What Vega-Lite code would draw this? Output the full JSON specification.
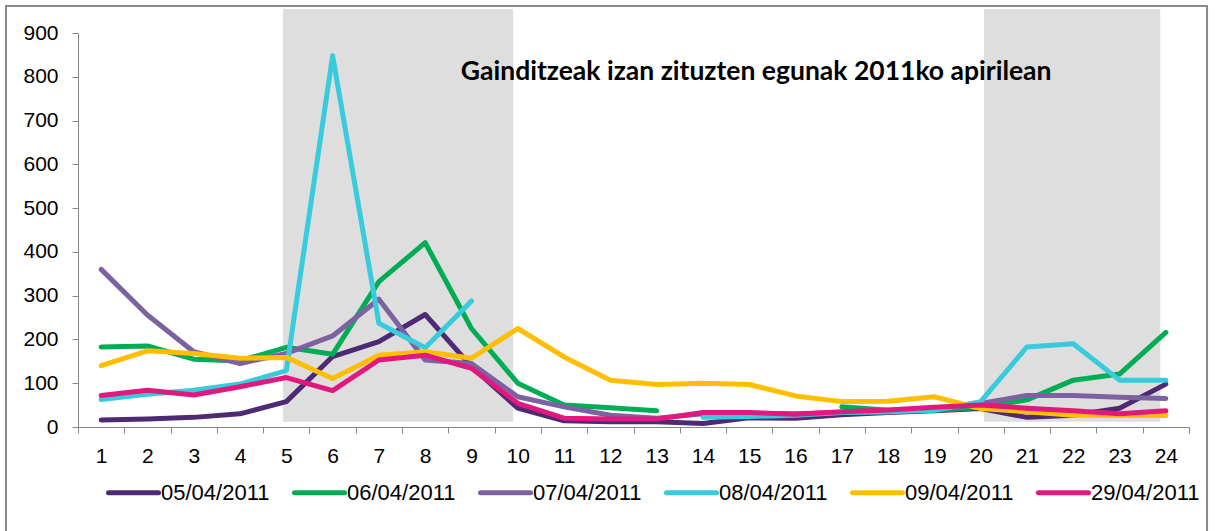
{
  "$schema": "https://vega.github.io/schema/vega-lite/v6.json",
  "autosize": "none",
  "width": 1111,
  "height": 394,
  "padding": {"left": 78, "top": 33, "right": 27, "bottom": 104},
  "background": "white",
  "config": {"view": {"stroke": null}, "font": "Liberation Sans"},
  "data": {"values": [
    {"hour":1,"date":"05/04/2011","value":16},{"hour":2,"date":"05/04/2011","value":18},{"hour":3,"date":"05/04/2011","value":22},{"hour":4,"date":"05/04/2011","value":30},{"hour":5,"date":"05/04/2011","value":58},{"hour":6,"date":"05/04/2011","value":161},{"hour":7,"date":"05/04/2011","value":195},{"hour":8,"date":"05/04/2011","value":257},{"hour":9,"date":"05/04/2011","value":138},{"hour":10,"date":"05/04/2011","value":43},{"hour":11,"date":"05/04/2011","value":14},{"hour":12,"date":"05/04/2011","value":12},{"hour":13,"date":"05/04/2011","value":12},{"hour":14,"date":"05/04/2011","value":8},{"hour":15,"date":"05/04/2011","value":21},{"hour":16,"date":"05/04/2011","value":20},{"hour":17,"date":"05/04/2011","value":28},{"hour":18,"date":"05/04/2011","value":33},{"hour":19,"date":"05/04/2011","value":37},{"hour":20,"date":"05/04/2011","value":42},{"hour":21,"date":"05/04/2011","value":22},{"hour":22,"date":"05/04/2011","value":27},{"hour":23,"date":"05/04/2011","value":43},{"hour":24,"date":"05/04/2011","value":98},
    {"hour":1,"date":"06/04/2011","value":183},{"hour":2,"date":"06/04/2011","value":185},{"hour":3,"date":"06/04/2011","value":155},{"hour":4,"date":"06/04/2011","value":151},{"hour":5,"date":"06/04/2011","value":182},{"hour":6,"date":"06/04/2011","value":166},{"hour":7,"date":"06/04/2011","value":332},{"hour":8,"date":"06/04/2011","value":421},{"hour":9,"date":"06/04/2011","value":225},{"hour":10,"date":"06/04/2011","value":100},{"hour":11,"date":"06/04/2011","value":50},{"hour":12,"date":"06/04/2011","value":44},{"hour":13,"date":"06/04/2011","value":37},{"hour":14,"date":"06/04/2011","value":null},{"hour":15,"date":"06/04/2011","value":null},{"hour":16,"date":"06/04/2011","value":null},{"hour":17,"date":"06/04/2011","value":46},{"hour":18,"date":"06/04/2011","value":38},{"hour":19,"date":"06/04/2011","value":38},{"hour":20,"date":"06/04/2011","value":45},{"hour":21,"date":"06/04/2011","value":62},{"hour":22,"date":"06/04/2011","value":107},{"hour":23,"date":"06/04/2011","value":121},{"hour":24,"date":"06/04/2011","value":216},
    {"hour":1,"date":"07/04/2011","value":360},{"hour":2,"date":"07/04/2011","value":256},{"hour":3,"date":"07/04/2011","value":172},{"hour":4,"date":"07/04/2011","value":145},{"hour":5,"date":"07/04/2011","value":168},{"hour":6,"date":"07/04/2011","value":208},{"hour":7,"date":"07/04/2011","value":292},{"hour":8,"date":"07/04/2011","value":153},{"hour":9,"date":"07/04/2011","value":145},{"hour":10,"date":"07/04/2011","value":69},{"hour":11,"date":"07/04/2011","value":46},{"hour":12,"date":"07/04/2011","value":27},{"hour":13,"date":"07/04/2011","value":20},{"hour":14,"date":"07/04/2011","value":30},{"hour":15,"date":"07/04/2011","value":31},{"hour":16,"date":"07/04/2011","value":30},{"hour":17,"date":"07/04/2011","value":33},{"hour":18,"date":"07/04/2011","value":35},{"hour":19,"date":"07/04/2011","value":40},{"hour":20,"date":"07/04/2011","value":54},{"hour":21,"date":"07/04/2011","value":72},{"hour":22,"date":"07/04/2011","value":72},{"hour":23,"date":"07/04/2011","value":68},{"hour":24,"date":"07/04/2011","value":65},
    {"hour":1,"date":"08/04/2011","value":63},{"hour":2,"date":"08/04/2011","value":75},{"hour":3,"date":"08/04/2011","value":84},{"hour":4,"date":"08/04/2011","value":98},{"hour":5,"date":"08/04/2011","value":129},{"hour":6,"date":"08/04/2011","value":848},{"hour":7,"date":"08/04/2011","value":237},{"hour":8,"date":"08/04/2011","value":181},{"hour":9,"date":"08/04/2011","value":288},{"hour":10,"date":"08/04/2011","value":null},{"hour":11,"date":"08/04/2011","value":null},{"hour":12,"date":"08/04/2011","value":null},{"hour":13,"date":"08/04/2011","value":null},{"hour":14,"date":"08/04/2011","value":22},{"hour":15,"date":"08/04/2011","value":24},{"hour":16,"date":"08/04/2011","value":27},{"hour":17,"date":"08/04/2011","value":33},{"hour":18,"date":"08/04/2011","value":35},{"hour":19,"date":"08/04/2011","value":38},{"hour":20,"date":"08/04/2011","value":58},{"hour":21,"date":"08/04/2011","value":183},{"hour":22,"date":"08/04/2011","value":190},{"hour":23,"date":"08/04/2011","value":107},{"hour":24,"date":"08/04/2011","value":107},
    {"hour":1,"date":"09/04/2011","value":140},{"hour":2,"date":"09/04/2011","value":174},{"hour":3,"date":"09/04/2011","value":168},{"hour":4,"date":"09/04/2011","value":157},{"hour":5,"date":"09/04/2011","value":159},{"hour":6,"date":"09/04/2011","value":111},{"hour":7,"date":"09/04/2011","value":164},{"hour":8,"date":"09/04/2011","value":172},{"hour":9,"date":"09/04/2011","value":157},{"hour":10,"date":"09/04/2011","value":225},{"hour":11,"date":"09/04/2011","value":160},{"hour":12,"date":"09/04/2011","value":107},{"hour":13,"date":"09/04/2011","value":97},{"hour":14,"date":"09/04/2011","value":100},{"hour":15,"date":"09/04/2011","value":97},{"hour":16,"date":"09/04/2011","value":71},{"hour":17,"date":"09/04/2011","value":58},{"hour":18,"date":"09/04/2011","value":59},{"hour":19,"date":"09/04/2011","value":69},{"hour":20,"date":"09/04/2011","value":42},{"hour":21,"date":"09/04/2011","value":35},{"hour":22,"date":"09/04/2011","value":27},{"hour":23,"date":"09/04/2011","value":26},{"hour":24,"date":"09/04/2011","value":26},
    {"hour":1,"date":"29/04/2011","value":72},{"hour":2,"date":"29/04/2011","value":84},{"hour":3,"date":"29/04/2011","value":73},{"hour":4,"date":"29/04/2011","value":92},{"hour":5,"date":"29/04/2011","value":113},{"hour":6,"date":"29/04/2011","value":83},{"hour":7,"date":"29/04/2011","value":153},{"hour":8,"date":"29/04/2011","value":164},{"hour":9,"date":"29/04/2011","value":134},{"hour":10,"date":"29/04/2011","value":54},{"hour":11,"date":"29/04/2011","value":20},{"hour":12,"date":"29/04/2011","value":18},{"hour":13,"date":"29/04/2011","value":18},{"hour":14,"date":"29/04/2011","value":33},{"hour":15,"date":"29/04/2011","value":33},{"hour":16,"date":"29/04/2011","value":29},{"hour":17,"date":"29/04/2011","value":35},{"hour":18,"date":"29/04/2011","value":39},{"hour":19,"date":"29/04/2011","value":45},{"hour":20,"date":"29/04/2011","value":50},{"hour":21,"date":"29/04/2011","value":43},{"hour":22,"date":"29/04/2011","value":37},{"hour":23,"date":"29/04/2011","value":30},{"hour":24,"date":"29/04/2011","value":37}
  ]},
  "layer": [
    {
      "data": {"values": [{}]},
      "mark": {"type": "rect", "fill": "white", "fillOpacity": 0, "stroke": "#8a8a8a", "strokeWidth": 2, "clip": false},
      "encoding": {
        "x": {"datum": -1.055, "type": "quantitative", "scale": {"domain": [0.5, 24.5], "nice": false, "zero": false},
          "axis": {"title": null, "grid": false, "values": [0.5,1.5,2.5,3.5,4.5,5.5,6.5,7.5,8.5,9.5,10.5,11.5,12.5,13.5,14.5,15.5,16.5,17.5,18.5,19.5,20.5,21.5,22.5,23.5,24.5], "labelExpr": "datum.value < 24 ? format(datum.value + 0.5, 'd') : ''", "labelOffset": 23.15, "labelOverlap": false, "labelBound": false, "labelFlush": false, "tickSize": 6, "labelPadding": 12, "labelFontSize": 21, "labelColor": "#000000", "domainColor": "#868686", "tickColor": "#868686", "domainWidth": 1, "tickWidth": 1}},
        "x2": {"datum": 24.89},
        "y": {"datum": 961.7, "type": "quantitative", "scale": {"domain": [0, 900], "nice": false},
          "axis": {"title": null, "grid": false, "values": [0,100,200,300,400,500,600,700,800,900], "tickSize": 6, "labelPadding": 14, "labelFontSize": 21, "labelColor": "#000000", "domainColor": "#868686", "tickColor": "#868686", "domainWidth": 1, "tickWidth": 1}},
        "y2": {"datum": -260}
      }
    },
    {
      "data": {"values": [{"start": 4.93, "end": 9.9}, {"start": 20.07, "end": 23.88}]},
      "mark": {"type": "rect", "color": "#dedede", "clip": false},
      "encoding": {
        "x": {"field": "start", "type": "quantitative", "scale": {"domain": [0.5, 24.5], "nice": false, "zero": false},
          "axis": {"title": null, "grid": false, "values": [0.5,1.5,2.5,3.5,4.5,5.5,6.5,7.5,8.5,9.5,10.5,11.5,12.5,13.5,14.5,15.5,16.5,17.5,18.5,19.5,20.5,21.5,22.5,23.5,24.5], "labelExpr": "datum.value < 24 ? format(datum.value + 0.5, 'd') : ''", "labelOffset": 23.15, "labelOverlap": false, "labelBound": false, "labelFlush": false, "tickSize": 6, "labelPadding": 12, "labelFontSize": 21, "labelColor": "#000000", "domainColor": "#868686", "tickColor": "#868686", "domainWidth": 1, "tickWidth": 1}},
        "x2": {"field": "end"},
        "y": {"datum": 12, "type": "quantitative", "scale": {"domain": [0, 900], "nice": false},
          "axis": {"title": null, "grid": false, "values": [0,100,200,300,400,500,600,700,800,900], "tickSize": 6, "labelPadding": 14, "labelFontSize": 21, "labelColor": "#000000", "domainColor": "#868686", "tickColor": "#868686", "domainWidth": 1, "tickWidth": 1}},
        "y2": {"datum": 955}
      }
    },
    {
      "mark": {"type": "line", "strokeWidth": 5, "strokeCap": "round", "strokeJoin": "round", "invalid": "break-paths-show-domains", "clip": false},
      "encoding": {
        "x": {"field": "hour", "type": "quantitative", "scale": {"domain": [0.5, 24.5], "nice": false, "zero": false},
          "axis": {"title": null, "grid": false, "values": [0.5,1.5,2.5,3.5,4.5,5.5,6.5,7.5,8.5,9.5,10.5,11.5,12.5,13.5,14.5,15.5,16.5,17.5,18.5,19.5,20.5,21.5,22.5,23.5,24.5], "labelExpr": "datum.value < 24 ? format(datum.value + 0.5, 'd') : ''", "labelOffset": 23.15, "labelOverlap": false, "labelBound": false, "labelFlush": false, "tickSize": 6, "labelPadding": 12, "labelFontSize": 21, "labelColor": "#000000", "domainColor": "#868686", "tickColor": "#868686", "domainWidth": 1, "tickWidth": 1}},
        "y": {"field": "value", "type": "quantitative", "scale": {"domain": [0, 900], "nice": false},
          "axis": {"title": null, "grid": false, "values": [0,100,200,300,400,500,600,700,800,900], "tickSize": 6, "labelPadding": 14, "labelFontSize": 21, "labelColor": "#000000", "domainColor": "#868686", "tickColor": "#868686", "domainWidth": 1, "tickWidth": 1}},
        "color": {
          "field": "date", "type": "nominal",
          "scale": {
            "domain": ["05/04/2011","06/04/2011","07/04/2011","08/04/2011","09/04/2011","29/04/2011"],
            "range": ["#4e2a74","#00ad55","#7c62a0","#38cbdc","#ffbf00","#e1187d"]
          },
          "legend": {
            "title": null, "orient": "none", "legendX": 28, "legendY": 432, "direction": "horizontal",
            "symbolType": "stroke", "symbolSize": 2500, "symbolStrokeWidth": 5,
            "labelFontSize": 22, "labelColor": "#000000", "labelOffset": 0, "columnPadding": 14, "padding": 0,
            "encode": {"symbols": {"update": {"strokeCap": {"value": "round"}}}}
          }
        }
      }
    },
    {
      "data": {"values": [{}]},
      "mark": {"type": "text", "text": "Gainditzeak izan zituzten egunak 2011ko apirilean", "font": "Lato", "fontWeight": "bold", "fontSize": 26.5, "align": "center", "baseline": "alphabetic", "color": "#000000", "clip": false},
      "encoding": {
        "x": {"datum": 15.15, "type": "quantitative", "scale": {"domain": [0.5, 24.5], "nice": false, "zero": false},
          "axis": {"title": null, "grid": false, "values": [0.5,1.5,2.5,3.5,4.5,5.5,6.5,7.5,8.5,9.5,10.5,11.5,12.5,13.5,14.5,15.5,16.5,17.5,18.5,19.5,20.5,21.5,22.5,23.5,24.5], "labelExpr": "datum.value < 24 ? format(datum.value + 0.5, 'd') : ''", "labelOffset": 23.15, "labelOverlap": false, "labelBound": false, "labelFlush": false, "tickSize": 6, "labelPadding": 12, "labelFontSize": 21, "labelColor": "#000000", "domainColor": "#868686", "tickColor": "#868686", "domainWidth": 1, "tickWidth": 1}},
        "y": {"datum": 793, "type": "quantitative", "scale": {"domain": [0, 900], "nice": false},
          "axis": {"title": null, "grid": false, "values": [0,100,200,300,400,500,600,700,800,900], "tickSize": 6, "labelPadding": 14, "labelFontSize": 21, "labelColor": "#000000", "domainColor": "#868686", "tickColor": "#868686", "domainWidth": 1, "tickWidth": 1}}
      }
    }
  ]
}
